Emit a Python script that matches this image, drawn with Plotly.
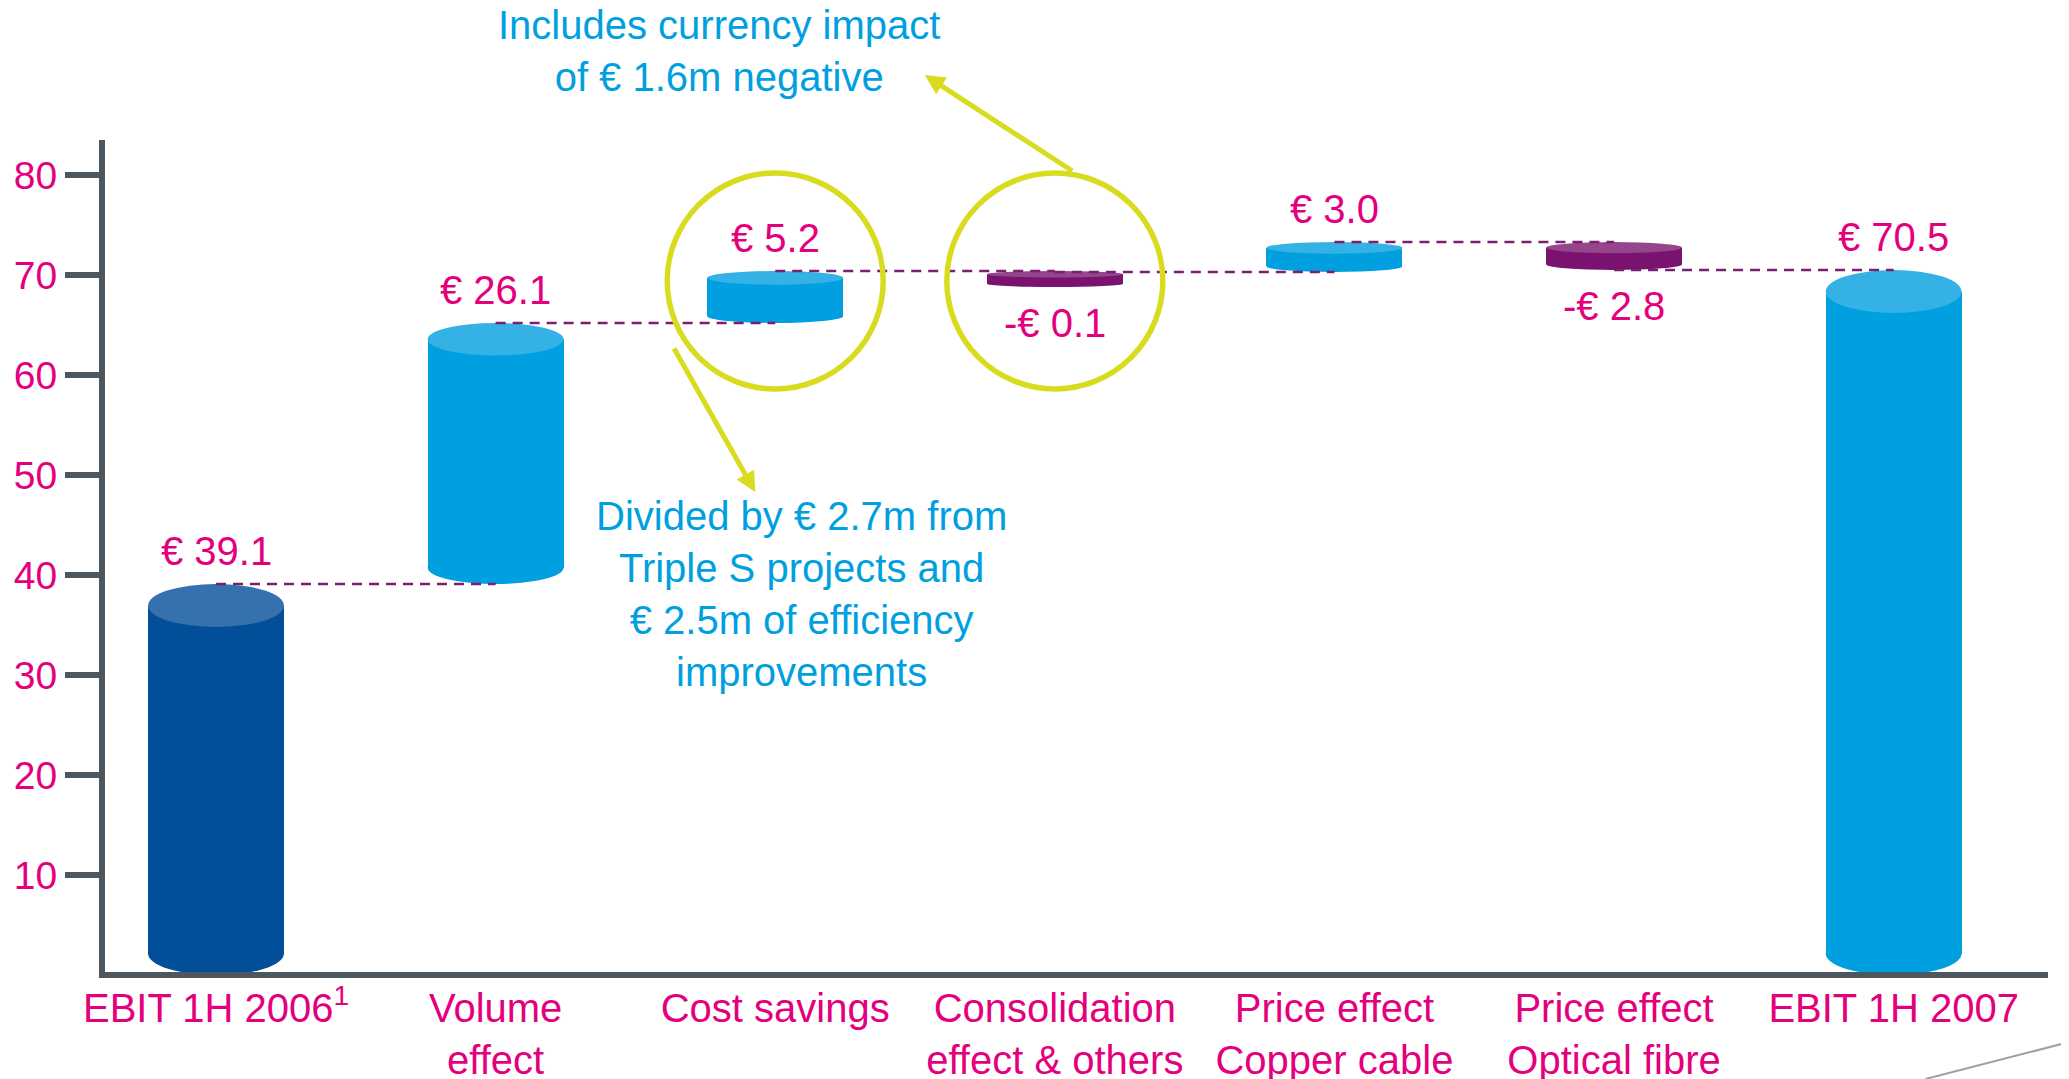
import plotly.graph_objects as go

# ---------------- data ----------------
categories = ["EBIT 1H 2006<sup>1</sup>", "Volume<br>effect", "Cost savings",
              "Consolidation<br>effect & others", "Price effect<br>Copper cable",
              "Price effect<br>Optical fibre", "EBIT 1H 2007"]
measures = ["total", "relative", "relative", "relative", "relative", "relative", "total"]
values = [39.1, 26.1, 5.2, -0.1, 3.0, -2.8, 70.5]
value_labels = ["€ 39.1", "€ 26.1", "€ 5.2", "-€ 0.1", "€ 3.0", "-€ 2.8", "€ 70.5"]
y_ticks = [10, 20, 30, 40, 50, 60, 70, 80]
note_currency = "Includes currency impact<br>of € 1.6m negative"
note_savings = "Divided by € 2.7m from<br>Triple S projects and<br>€ 2.5m of efficiency<br>improvements"
circled = [2, 3]   # indices of the highlighted bars

# ---------------- styles ----------------
FONT = "Liberation Sans, Arial, sans-serif"
PINK = "#E4007C"
BLUE_TXT = "#00A0E0"
AXIS = "#4C5760"
DASH = "#7B1F72"
YELLOW = "#D9DB1E"
COL_START = ("#024E98", "#3471AE")
COL_UP = ("#009FE0", "#34B2E6")
COL_DOWN = ("#7A1270", "#95458C")
BAR_W = 0.486
MIN_T = 1.6
CAP_MAX = 4.3
PAGE_MARGIN = 8   # default body margin of the html page

# ---------------- compute waterfall geometry ----------------
lo, hi, ends, starts, cols = [], [], [], [], []
running = 0.0
for i, (m, v) in enumerate(zip(measures, values)):
    if m == "total":
        s, e = 0.0, v
        col = COL_START if i == 0 else COL_UP
    else:
        s, e = running, running + v
        col = COL_UP if v >= 0 else COL_DOWN
    running = e
    a, b = min(s, e), max(s, e)
    if b - a < MIN_T:
        if v < 0:
            a = b - MIN_T
        else:
            b = a + MIN_T
    lo.append(a); hi.append(b); ends.append(e); starts.append(s); cols.append(col)

caps = []
for a, b in zip(lo, hi):
    h = b - a
    caps.append(min(CAP_MAX, 0.9 + 0.09 * h, 0.4 * h))

xs = list(range(len(categories)))

fig = go.Figure()
fig.add_trace(go.Bar(
    x=xs,
    y=[b - a - d for a, b, d in zip(lo, hi, caps)],
    base=[a + d / 2 for a, d in zip(lo, caps)],
    width=BAR_W,
    marker=dict(color=[c[0] for c in cols], line=dict(width=0)),
    hoverinfo="skip",
    showlegend=False,
))

shapes = []
for i in xs:
    d = caps[i]
    # bottom face
    shapes.append(dict(type="circle", xref="x", yref="y", layer="below",
                       x0=i - BAR_W / 2, x1=i + BAR_W / 2, y0=lo[i], y1=lo[i] + d,
                       fillcolor=cols[i][0], line=dict(width=0)))
for i in xs:
    d = caps[i]
    # top face
    shapes.append(dict(type="circle", xref="x", yref="y", layer="above",
                       x0=i - BAR_W / 2, x1=i + BAR_W / 2, y0=hi[i] - d, y1=hi[i],
                       fillcolor=cols[i][1], line=dict(width=0)))
# dashed connectors
for i in xs[:-1]:
    shapes.append(dict(type="line", xref="x", yref="y", layer="above",
                       x0=i, x1=i + 1, y0=ends[i], y1=ends[i],
                       line=dict(color=DASH, width=2.5, dash="10px,7px")))
# highlight circles
for i in circled:
    shapes.append(dict(type="circle", xref="x", yref="y", layer="above",
                       xsizemode="pixel", ysizemode="pixel",
                       xanchor=i, yanchor=max(starts[i], ends[i]),
                       x0=-108, x1=108, y0=-118, y1=98,
                       line=dict(color=YELLOW, width=5.5)))
# slide corner decoration
shapes.append(dict(type="line", xref="paper", yref="paper", layer="above",
                   x0=0.937, y0=-0.1286, x1=1.011, y1=-0.0841,
                   line=dict(color="#A0A0A0", width=2)))

annotations = []
for i in xs:
    if values[i] >= 0:
        annotations.append(dict(x=i, y=hi[i], xref="x", yref="y", text=value_labels[i],
                                showarrow=False, yanchor="middle", yshift=33,
                                font=dict(family=FONT, size=40, color=PINK)))
    else:
        annotations.append(dict(x=i, y=lo[i], xref="x", yref="y", text=value_labels[i],
                                showarrow=False, yanchor="middle", yshift=-36,
                                font=dict(family=FONT, size=40, color=PINK)))

# arrows from the circles to the notes
top3 = max(starts[3], ends[3])
annotations.append(dict(x=3, y=top3, xref="x", yref="y", xshift=-130, yshift=196,
                        ax=149, ay=97, showarrow=True, arrowhead=2, arrowsize=0.8,
                        arrowwidth=5, arrowcolor=YELLOW, text=""))
top2 = max(starts[2], ends[2])
annotations.append(dict(x=2, y=top2, xref="x", yref="y", xshift=-20, yshift=-221,
                        ax=-82, ay=-145, showarrow=True, arrowhead=2, arrowsize=0.8,
                        arrowwidth=5, arrowcolor=YELLOW, text=""))
annotations.append(dict(x=0.3158, y=1.107, xref="paper", yref="paper", text=note_currency,
                        showarrow=False, xanchor="center", yanchor="middle",
                        font=dict(family=FONT, size=40, color=BLUE_TXT)))
annotations.append(dict(x=0.3585, y=0.4543, xref="paper", yref="paper", text=note_savings,
                        showarrow=False, xanchor="center", yanchor="middle",
                        font=dict(family=FONT, size=40, color=BLUE_TXT)))

fig.update_layout(
    width=2069 - PAGE_MARGIN, height=1079 - PAGE_MARGIN,
    margin=dict(l=97, r=21, t=132, b=107, autoexpand=False),
    paper_bgcolor="white", plot_bgcolor="white",
    shapes=shapes, annotations=annotations,
    bargap=0,
    xaxis=dict(range=[-0.397, 6.552], tickvals=xs, ticktext=categories,
               showline=True, linewidth=6, linecolor=AXIS, ticks="",
               showgrid=False, zeroline=False, automargin=False,
               ticklabelstandoff=-4,
               tickfont=dict(family=FONT, size=40, color=PINK)),
    yaxis=dict(range=[0.3, 83.5], tickvals=y_ticks, showline=True, linewidth=6,
               linecolor=AXIS, ticks="outside", ticklen=34, tickwidth=6, tickcolor=AXIS,
               showgrid=False, zeroline=False, automargin=False,
               tickfont=dict(family=FONT, size=39, color=PINK)),
)

fig.write_html("out.html")
